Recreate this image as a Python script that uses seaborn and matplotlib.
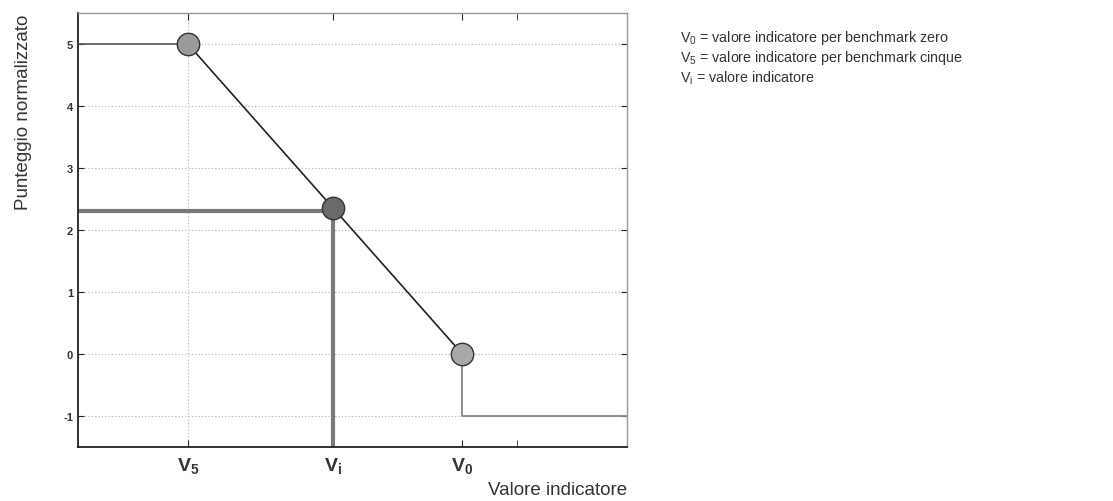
import matplotlib.pyplot as plt
import seaborn as sns
import pandas as pd

sns.set_style("white")
plt.rcParams['font.family'] = ['Liberation Sans', 'DejaVu Sans']
plt.rcParams['axes.unicode_minus'] = False

# data
v5, vi, v0 = 2.0, 4.64, 7.0
x_min, x_max = 0.0, 10.0
score_top, score_zero, score_floor = 5.0, 0.0, -1.0
vi_score = 2.35
vi_guide = 2.31
curve_x = [x_min, v5, v0, v0, x_max]
curve_y = [score_top, score_top, score_zero, score_floor, score_floor]
pts_x = [v5, vi, v0]
pts_y = [score_top, vi_score, score_zero]
pts_color = ['#9a9a9a', '#6a6a6a', '#a8a8a8']
tick_labels = [r'$\mathregular{V_5}$', r'$\mathregular{V_i}$', r'$\mathregular{V_0}$']
legend_lines = [r'$\mathregular{V_0}$ = valore indicatore per benchmark zero',
                r'$\mathregular{V_5}$ = valore indicatore per benchmark cinque',
                r'$\mathregular{V_i}$ = valore indicatore']

fig = plt.figure(figsize=(11.13, 5.02), dpi=100)
ax = fig.add_axes([0.0701, 0.1076, 0.4933, 0.8645])

# grid
ax.set_yticks([-1, 0, 1, 2, 3, 4, 5])
ax.yaxis.grid(True, ls=(0, (1, 2)), color='#b0b0b0', lw=0.8)
ax.axvline(v5, ls=(0, (1, 2)), color='#b0b0b0', lw=0.8, zorder=0)

# guide lines for Vi
ax.plot([x_min, vi], [vi_guide, vi_guide], color='#7a7a7a', lw=3, zorder=2)
ax.plot([vi, vi], [-1.5, vi_guide], color='#7a7a7a', lw=3, zorder=2)

# curve segments
df = pd.DataFrame({'x': curve_x, 'y': curve_y})
ax.plot(df.x[:2], df.y[:2], color='#555555', lw=1.2, zorder=3)
ax.plot(df.x[1:3], df.y[1:3], color='#222222', lw=1.2, zorder=3)
ax.plot(df.x[2:], df.y[2:], color='#888888', lw=1.3, zorder=3)

for px, py, c in zip(pts_x, pts_y, pts_color):
    ax.scatter([px], [py], s=260, color=c, edgecolor='#333333', linewidth=1, zorder=4)

ax.set_xlim(x_min, x_max)
ax.set_ylim(-1.5, 5.5)
ax.set_xticks(pts_x)
ax.set_xticks([8.0], minor=True)
ax.set_xticklabels(tick_labels, fontsize=14, color='#333333', fontweight='bold')
ax.set_yticklabels([str(t) for t in [-1, 0, 1, 2, 3, 4, 5]], fontsize=8,
                   color='#333333', fontweight='bold')
ax.tick_params(axis='y', direction='in', length=4, right=True, left=True)
ax.tick_params(axis='x', which='both', direction='in', length=5, top=True, bottom=True, pad=6)

for s in ['left', 'bottom']:
    ax.spines[s].set_color('#222222')
    ax.spines[s].set_linewidth(1.3)
for s in ['top', 'right']:
    ax.spines[s].set_color('#999999')
    ax.spines[s].set_linewidth(1.0)

ax.set_ylabel('Punteggio normalizzato', fontsize=13.5, color='#333333')
ax.yaxis.set_label_coords(-0.083, 0.774)
ax.set_xlabel('Valore indicatore', fontsize=13.5, color='#333333', ha='right', va='center')
ax.xaxis.set_label_coords(1.0, -0.099)

for i, line in enumerate(legend_lines):
    fig.text(0.611, 0.925 - i * 0.04, line, fontsize=10.3, color='#333333', va='center')

fig.savefig('out.png', dpi=100)
